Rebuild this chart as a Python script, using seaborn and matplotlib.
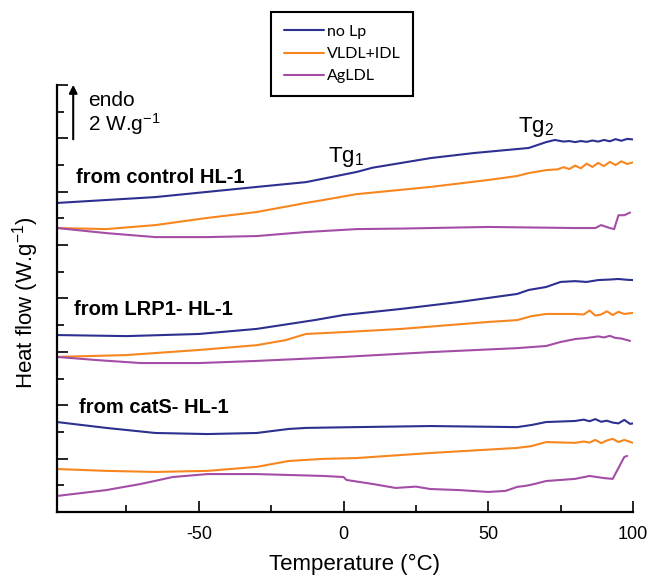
import numpy as np
import pandas as pd
import matplotlib.pyplot as plt
import seaborn as sns
from matplotlib.ticker import MultipleLocator, NullFormatter

sns.set_theme(style="ticks")
plt.rcParams["font.family"] = ["Liberation Sans", "DejaVu Sans"]
plt.rcParams["mathtext.fontset"] = "custom"
plt.rcParams["mathtext.rm"] = "Liberation Sans"
plt.rcParams["mathtext.it"] = "Liberation Sans"
plt.rcParams["axes.unicode_minus"] = False
for k in ["text.color", "axes.labelcolor", "xtick.color", "ytick.color", "axes.edgecolor"]:
    plt.rcParams[k] = "black"

# --- data (temperature in C, heat flow with vertical offsets) ---
ctrl_nolp_t = [-99, -65, -30, -13, 4.5, 10, 20, 30, 45, 64, 70, 73, 76, 78, 80, 82, 84, 86, 88, 90, 92, 94, 96, 98, 100]
ctrl_nolp_v = [11.58, 11.80, 12.18, 12.36, 12.74, 12.90, 13.08, 13.26, 13.45, 13.64, 13.86, 13.94, 13.88, 13.90, 13.86,
               13.90, 13.87, 13.92, 13.88, 13.94, 13.89, 13.97, 13.91, 13.98, 13.96]
ctrl_vldl_t = [-99, -82, -65, -47, -30, -13, -7, 4.5, 15, 30, 50, 60, 64, 70, 74, 76, 78, 80, 82, 84, 86, 88, 90, 92, 94, 96,
               98, 100]
ctrl_vldl_v = [10.64, 10.60, 10.75, 11.02, 11.24, 11.58, 11.69, 11.91, 12.02, 12.18, 12.44, 12.59, 12.70, 12.81, 12.84,
               12.92, 12.85, 12.98, 12.88, 13.05, 12.93, 13.08, 12.96, 13.12, 13.00, 13.14, 13.04, 13.10]
ctrl_agldl_t = [-99, -82, -65, -47, -30, -13, 4.5, 20, 50, 80, 87, 89, 92, 93.5, 95, 97, 99]
ctrl_agldl_v = [10.64, 10.45, 10.30, 10.30, 10.34, 10.49, 10.60, 10.62, 10.68, 10.64, 10.64, 10.75, 10.64, 10.60, 11.12,
                11.12, 11.22]

lrp_nolp_t = [-99, -75, -50, -30, -10, 0, 20, 40, 60, 64, 70, 75, 80, 84, 88, 92, 95, 98, 100]
lrp_nolp_v = [6.63, 6.59, 6.67, 6.86, 7.19, 7.38, 7.61, 7.87, 8.17, 8.32, 8.43, 8.62, 8.65, 8.62, 8.69, 8.71, 8.73, 8.70, 8.69]
lrp_vldl_t = [-99, -75, -50, -30, -20, -13, 0, 20, 50, 60, 65, 70, 80, 83, 85, 87, 89, 91, 93, 95, 97, 100]
lrp_vldl_v = [5.81, 5.88, 6.07, 6.25, 6.44, 6.67, 6.74, 6.86, 7.12, 7.19, 7.34, 7.42, 7.42, 7.40, 7.55, 7.36, 7.40, 7.52, 7.38,
              7.50, 7.42, 7.46]
lrp_agldl_t = [-99, -85, -70, -50, -30, 0, 30, 60, 70, 75, 80, 84, 88, 90, 92, 94, 96, 99]
lrp_agldl_v = [5.81, 5.69, 5.58, 5.58, 5.66, 5.81, 5.99, 6.14, 6.22, 6.37, 6.48, 6.52, 6.58, 6.54, 6.60, 6.52, 6.50, 6.41]

cats_nolp_t = [-99, -82, -65, -47, -30, -19, -13, 4.5, 30, 60, 65, 70, 80, 83, 85, 87, 89, 91, 93, 95, 97, 99, 100]
cats_nolp_v = [3.37, 3.15, 2.96, 2.92, 2.96, 3.11, 3.15, 3.18, 3.22, 3.18, 3.26, 3.37, 3.41, 3.46, 3.40, 3.48, 3.38, 3.42,
               3.35, 3.32, 3.45, 3.30, 3.32]
cats_vldl_t = [-99, -82, -65, -47, -30, -19, -7, 4.5, 30, 60, 65, 70, 80, 83, 85, 87, 89, 91, 93, 95, 97, 100]
cats_vldl_v = [1.61, 1.54, 1.50, 1.54, 1.69, 1.91, 1.99, 2.02, 2.21, 2.40, 2.47, 2.62, 2.59, 2.64, 2.60, 2.70, 2.58, 2.68,
               2.74, 2.62, 2.70, 2.59]
cats_agldl_t = [-99, -82, -70, -59, -47, -30, -7, 0, 1, 10, 18, 25, 30, 40, 50, 56, 60, 63, 66, 70, 75, 80, 85, 90, 93, 95,
                97, 98]
cats_agldl_v = [0.60, 0.82, 1.05, 1.31, 1.42, 1.42, 1.35, 1.31, 1.20, 1.05, 0.90, 0.95, 0.86, 0.82, 0.75, 0.79, 0.94, 0.98,
                1.05, 1.16, 1.20, 1.24, 1.35, 1.27, 1.24, 1.65, 2.06, 2.10]

lp_names = ["no Lp", "VLDL+IDL", "AgLDL"]
group_labels = ["from control HL-1", "from LRP1- HL-1", "from catS- HL-1"]
colors = ["#2d3090", "#f7861f", "#a44da5"]

curves = [
    ("control", "no Lp", ctrl_nolp_t, ctrl_nolp_v),
    ("control", "VLDL+IDL", ctrl_vldl_t, ctrl_vldl_v),
    ("control", "AgLDL", ctrl_agldl_t, ctrl_agldl_v),
    ("LRP1-", "no Lp", lrp_nolp_t, lrp_nolp_v),
    ("LRP1-", "VLDL+IDL", lrp_vldl_t, lrp_vldl_v),
    ("LRP1-", "AgLDL", lrp_agldl_t, lrp_agldl_v),
    ("catS-", "no Lp", cats_nolp_t, cats_nolp_v),
    ("catS-", "VLDL+IDL", cats_vldl_t, cats_vldl_v),
    ("catS-", "AgLDL", cats_agldl_t, cats_agldl_v),
]
rows = []
for cell, lp, ts, vs in curves:
    for t, v in zip(ts, vs):
        rows.append({"cell": cell, "lp": lp, "temp": t, "heat": v})
df = pd.DataFrame(rows)

fig = plt.figure(figsize=(6.53, 5.77), dpi=100)
ax = fig.add_axes([0.0873, 0.1127, 0.882, 0.740])

sns.lineplot(data=df, x="temp", y="heat", hue="lp", hue_order=lp_names, units="cell",
             estimator=None, palette=colors, linewidth=1.5, ax=ax)

ax.set_xlim(-99, 100)
ax.set_ylim(0, 16)
ax.xaxis.set_major_locator(MultipleLocator(50))
ax.xaxis.set_minor_locator(MultipleLocator(25))
ax.yaxis.set_major_locator(MultipleLocator(2))
ax.yaxis.set_minor_locator(MultipleLocator(1))
ax.yaxis.set_major_formatter(NullFormatter())
ax.tick_params(which="major", direction="in", length=8, width=1.2, labelsize=13)
ax.tick_params(which="minor", direction="in", length=5, width=1.2)
ax.tick_params(axis="x", pad=10)
for s in ["top", "right"]:
    ax.spines[s].set_visible(False)
for s in ["left", "bottom"]:
    ax.spines[s].set_linewidth(1.6)

ax.set_xlabel("Temperature (°C)", fontsize=16)
ax.xaxis.set_label_coords(0.516, -0.098)
ax.set_ylabel("Heat flow (W.g$^{-1}$)", fontsize=16)
ax.yaxis.set_label_coords(-0.028, 0.49)

ax.text(-92.4, 12.33, group_labels[0], fontsize=14.5, fontweight="bold", va="baseline")
ax.text(-93, 7.38, group_labels[1], fontsize=14.5, fontweight="bold", va="baseline")
ax.text(-91.3, 3.71, group_labels[2], fontsize=14.5, fontweight="bold", va="baseline")
ax.text(-5.5, 13.11, "Tg$_{1}$", fontsize=16, va="baseline")
ax.text(60.2, 14.24, "Tg$_{2}$", fontsize=16, va="baseline")

ax.annotate("", xy=(-93.4, 16.11), xytext=(-93.4, 13.86),
            arrowprops=dict(arrowstyle="-|>", color="black", lw=1.5, mutation_scale=12),
            annotation_clip=False)
ax.text(-88.2, 15.2, "endo", fontsize=15, va="baseline")
ax.text(-88.2, 14.28, "2 W.g$^{-1}$", fontsize=15, va="baseline")

handles, labels = ax.get_legend_handles_labels()
ax.legend(handles, labels, loc="upper left", bbox_to_anchor=(271 / 653, 1 - 12 / 577),
          bbox_transform=fig.transFigure, borderaxespad=0, frameon=True, fancybox=False,
          edgecolor="black", framealpha=1, prop={"family": "Lato", "size": 11.5},
          handlelength=2.5, handletextpad=0.2, labelspacing=0.5, borderpad=0.8)
ax.get_legend().get_frame().set_linewidth(1.5)

fig.savefig("out.png", dpi=100)
